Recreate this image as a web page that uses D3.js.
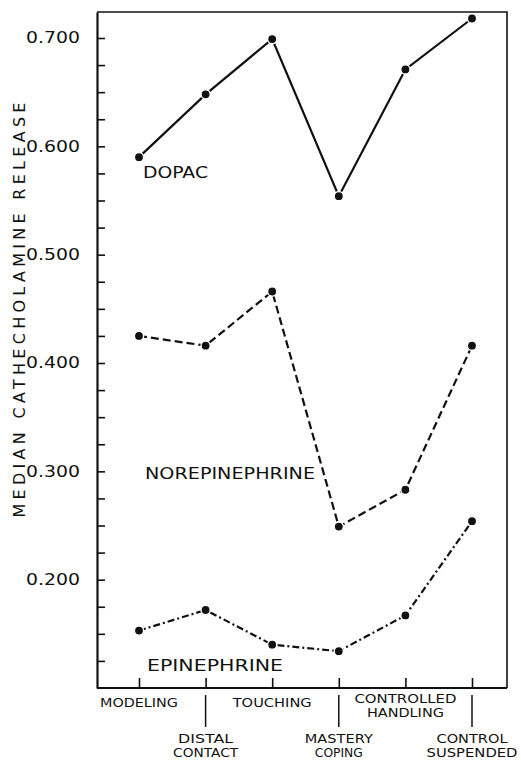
<!DOCTYPE html>
<html>
<head>
<meta charset="utf-8">
<script src="https://cdn.jsdelivr.net/npm/d3@7"></script>
<style>
  html, body { margin: 0; padding: 0; background: #fff; }
  svg { display: block; }
  text { font-family: "DejaVu Sans", sans-serif; fill: #111; }
</style>
</head>
<body>
<svg id="chart" width="521" height="761"></svg>
<script>
// ---- data ----
const categories = [
  ["MODELING"],
  ["DISTAL", "CONTACT"],
  ["TOUCHING"],
  ["MASTERY", "COPING"],
  ["CONTROLLED", "HANDLING"],
  ["CONTROL", "SUSPENDED"]
];
const dopac = [0.590, 0.648, 0.699, 0.554, 0.671, 0.718];
const norepinephrine = [0.425, 0.416, 0.466, 0.249, 0.283, 0.416];
const epinephrine = [0.153, 0.172, 0.140, 0.134, 0.167, 0.254];
const majorTicks = [0.2, 0.3, 0.4, 0.5, 0.6, 0.7];
const minorTicks = [0.125, 0.15, 0.175, 0.225, 0.25, 0.275, 0.325, 0.35, 0.375,
                    0.425, 0.45, 0.475, 0.525, 0.55, 0.575, 0.625, 0.65, 0.675];
const yTitle = "MEDIAN CATHECHOLAMINE RELEASE";

// ---- layout ----
const svg = d3.select("#chart");
const mLeft = 97, mRight = 507, mTop = 12, mBottom = 688;

const idx = categories.map((d, i) => i);
const x = d3.scalePoint().domain(idx).range([139, 472]);
const y = d3.scaleLinear().domain([0.1, 0.724]).range([mBottom, mTop]);

// frame (top and right)
svg.append("path")
  .attr("d", `M${mLeft},${mTop} L${mRight},${mTop} L${mRight},${mBottom}`)
  .attr("fill", "none").attr("stroke", "#111").attr("stroke-width", 1.6);

// y axis
const yAxis = svg.append("g").attr("transform", `translate(${mLeft},0)`)
  .call(d3.axisLeft(y).tickValues(majorTicks).tickSizeInner(-8).tickSizeOuter(0)
        .tickPadding(17).tickFormat(d3.format(".3f")));
yAxis.select(".domain").attr("stroke", "#111").attr("stroke-width", 2.2);
yAxis.selectAll(".tick line").attr("stroke", "#111").attr("stroke-width", 1.6);
yAxis.selectAll(".tick text")
  .attr("font-size", 15).attr("font-family", "DejaVu Sans, sans-serif")
  .attr("fill", "#111")
  .attr("textLength", 54).attr("lengthAdjust", "spacingAndGlyphs");

const yMinor = svg.append("g").attr("transform", `translate(${mLeft},0)`)
  .call(d3.axisLeft(y).tickValues(minorTicks).tickSizeInner(-8).tickSizeOuter(0).tickFormat(""));
yMinor.select(".domain").remove();
yMinor.selectAll(".tick line").attr("stroke", "#111").attr("stroke-width", 1.6);

// x axis
const xAxis = svg.append("g").attr("transform", `translate(0,${mBottom})`)
  .call(d3.axisBottom(x).tickSizeInner(-10).tickSizeOuter(0).tickFormat(""));
xAxis.select(".domain").attr("d", `M${mLeft},0H${mRight}`).attr("stroke", "#111").attr("stroke-width", 2);
xAxis.selectAll(".tick line").attr("stroke", "#111").attr("stroke-width", 1.6);

// long leader lines for lower-row labels
svg.selectAll(".leader").data(idx.filter(i => i % 2 === 1)).enter()
  .append("line").attr("class", "leader")
  .attr("x1", d => x(d)).attr("x2", d => x(d))
  .attr("y1", mBottom + 7).attr("y2", mBottom + 39)
  .attr("stroke", "#111").attr("stroke-width", 1.5);

// category labels
const labelWidths = {
  "MODELING": 78, "DISTAL": 55, "CONTACT": 65, "TOUCHING": 79,
  "MASTERY": 68, "COPING": 48, "CONTROLLED": 102, "HANDLING": 77,
  "CONTROL": 71, "SUSPENDED": 91
};
categories.forEach((lines, i) => {
  let y0;
  if (i % 2 === 1) y0 = mBottom + 55;
  else y0 = lines.length > 1 ? mBottom + 15 : mBottom + 19;
  lines.forEach((t, k) => {
    svg.append("text")
      .attr("x", x(i)).attr("y", y0 + k * 14)
      .attr("text-anchor", "middle")
      .attr("font-size", 12)
      .attr("textLength", labelWidths[t]).attr("lengthAdjust", "spacingAndGlyphs")
      .text(t);
  });
});

// y title
svg.append("text")
  .attr("transform", `translate(25,310) rotate(-90)`)
  .attr("text-anchor", "middle")
  .attr("font-size", 16)
  .attr("textLength", 415).attr("lengthAdjust", "spacing")
  .text(yTitle);

// series
const series = [
  { name: "DOPAC", values: dopac, dash: null, lx: 143, ly: 178, lw: 65 },
  { name: "NOREPINEPHRINE", values: norepinephrine, dash: "8,4", lx: 145, ly: 479, lw: 170 },
  { name: "EPINEPHRINE", values: epinephrine, dash: "7,3,2,3", lx: 147, ly: 671, lw: 136 }
];
const line = d3.line().x((d, i) => x(i)).y(d => y(d));

series.forEach(s => {
  svg.append("path")
    .datum(s.values)
    .attr("d", line)
    .attr("fill", "none").attr("stroke", "#111").attr("stroke-width", 2.2)
    .attr("stroke-dasharray", s.dash);
  svg.selectAll(null).data(s.values).enter().append("circle")
    .attr("cx", (d, i) => x(i)).attr("cy", d => y(d)).attr("r", 4.6)
    .attr("fill", "#111").attr("stroke", "#fff").attr("stroke-width", 1.4);
  svg.append("text")
    .attr("x", s.lx).attr("y", s.ly)
    .attr("font-size", 16.5)
    .attr("textLength", s.lw).attr("lengthAdjust", "spacingAndGlyphs")
    .text(s.name);
});
</script>
</body>
</html>
